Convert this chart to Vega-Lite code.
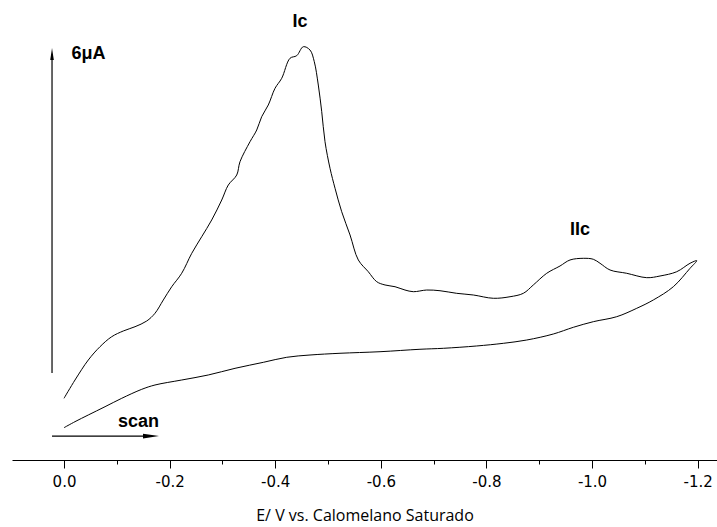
{
  "$schema": "https://vega.github.io/schema/vega-lite/v6.json",
  "width": 705,
  "height": 460,
  "autosize": {"type": "none"},
  "padding": {"left": 12, "top": 0, "right": 0, "bottom": 67},
  "background": "white",
  "config": {
    "view": {"stroke": null},
    "axis": {
      "domainColor": "black", "tickColor": "black", "labelColor": "black", "titleColor": "black",
      "labelFont": "DejaVu Sans", "labelFontSize": 15,
      "titleFont": "Open Sans", "titleFontSize": 16, "titleFontWeight": "normal"
    }
  },
  "datasets": {
    "cv": [
      {"i": 1, "E": 0.0, "I": 1.140}, {"i": 2, "E": -0.0208, "I": 1.478}, {"i": 3, "E": -0.046, "I": 1.848},
      {"i": 4, "E": -0.0682, "I": 2.094}, {"i": 5, "E": -0.0903, "I": 2.278}, {"i": 6, "E": -0.1123, "I": 2.384},
      {"i": 7, "E": -0.1345, "I": 2.463}, {"i": 8, "E": -0.1566, "I": 2.568}, {"i": 9, "E": -0.1723, "I": 2.711},
      {"i": 10, "E": -0.1881, "I": 2.957}, {"i": 11, "E": -0.204, "I": 3.202}, {"i": 12, "E": -0.2229, "I": 3.450},
      {"i": 13, "E": -0.2419, "I": 3.819}, {"i": 14, "E": -0.2608, "I": 4.126}, {"i": 15, "E": -0.2797, "I": 4.435},
      {"i": 16, "E": -0.2987, "I": 4.804}, {"i": 17, "E": -0.3112, "I": 5.082}, {"i": 18, "E": -0.3271, "I": 5.266},
      {"i": 19, "E": -0.3333, "I": 5.512}, {"i": 20, "E": -0.3523, "I": 5.882}, {"i": 21, "E": -0.365, "I": 6.098},
      {"i": 22, "E": -0.3744, "I": 6.344}, {"i": 23, "E": -0.3869, "I": 6.560}, {"i": 24, "E": -0.3996, "I": 6.868},
      {"i": 25, "E": -0.4123, "I": 7.053}, {"i": 26, "E": -0.428, "I": 7.423}, {"i": 27, "E": -0.4407, "I": 7.471},
      {"i": 28, "E": -0.4532, "I": 7.637}, {"i": 29, "E": -0.4659, "I": 7.576}, {"i": 30, "E": -0.474, "I": 7.360},
      {"i": 31, "E": -0.4816, "I": 6.929}, {"i": 32, "E": -0.4881, "I": 6.436}, {"i": 33, "E": -0.4943, "I": 5.882},
      {"i": 34, "E": -0.5038, "I": 5.390}, {"i": 35, "E": -0.5133, "I": 5.021}, {"i": 36, "E": -0.5259, "I": 4.588},
      {"i": 37, "E": -0.5417, "I": 4.158}, {"i": 38, "E": -0.5574, "I": 3.696}, {"i": 39, "E": -0.5763, "I": 3.479},
      {"i": 40, "E": -0.5922, "I": 3.295}, {"i": 41, "E": -0.608, "I": 3.234}, {"i": 42, "E": -0.6269, "I": 3.202},
      {"i": 43, "E": -0.6458, "I": 3.141}, {"i": 44, "E": -0.6616, "I": 3.110}, {"i": 45, "E": -0.6869, "I": 3.141},
      {"i": 46, "E": -0.7121, "I": 3.128}, {"i": 47, "E": -0.7437, "I": 3.080}, {"i": 48, "E": -0.7752, "I": 3.049},
      {"i": 49, "E": -0.8131, "I": 2.988}, {"i": 50, "E": -0.8447, "I": 3.017}, {"i": 51, "E": -0.8699, "I": 3.080},
      {"i": 52, "E": -0.8888, "I": 3.234}, {"i": 53, "E": -0.9142, "I": 3.450}, {"i": 54, "E": -0.9394, "I": 3.585},
      {"i": 55, "E": -0.9583, "I": 3.696}, {"i": 56, "E": -0.9835, "I": 3.727}, {"i": 57, "E": -1.0025, "I": 3.709},
      {"i": 58, "E": -1.0152, "I": 3.635}, {"i": 59, "E": -1.0341, "I": 3.511}, {"i": 60, "E": -1.0657, "I": 3.450},
      {"i": 61, "E": -1.1036, "I": 3.369}, {"i": 62, "E": -1.1288, "I": 3.400}, {"i": 63, "E": -1.1604, "I": 3.479},
      {"i": 64, "E": -1.1856, "I": 3.635}, {"i": 65, "E": -1.1983, "I": 3.683},
      {"i": 66, "E": -1.1856, "I": 3.542}, {"i": 67, "E": -1.154, "I": 3.202}, {"i": 68, "E": -1.1161, "I": 2.957},
      {"i": 69, "E": -1.0847, "I": 2.803}, {"i": 70, "E": -1.0468, "I": 2.648}, {"i": 71, "E": -1.0025, "I": 2.556},
      {"i": 72, "E": -0.9646, "I": 2.452}, {"i": 73, "E": -0.9267, "I": 2.328}, {"i": 74, "E": -0.8763, "I": 2.217},
      {"i": 75, "E": -0.832, "I": 2.156}, {"i": 76, "E": -0.7816, "I": 2.107}, {"i": 77, "E": -0.7184, "I": 2.064},
      {"i": 78, "E": -0.6742, "I": 2.046}, {"i": 79, "E": -0.5985, "I": 2.001}, {"i": 80, "E": -0.5227, "I": 1.972},
      {"i": 81, "E": -0.4659, "I": 1.940}, {"i": 82, "E": -0.4218, "I": 1.898}, {"i": 83, "E": -0.3775, "I": 1.805},
      {"i": 84, "E": -0.3239, "I": 1.694}, {"i": 85, "E": -0.2733, "I": 1.571}, {"i": 86, "E": -0.2229, "I": 1.478},
      {"i": 87, "E": -0.1723, "I": 1.386}, {"i": 88, "E": -0.1472, "I": 1.306}, {"i": 89, "E": -0.1093, "I": 1.140},
      {"i": 90, "E": -0.0777, "I": 0.985}, {"i": 91, "E": -0.046, "I": 0.832}, {"i": 92, "E": -0.0208, "I": 0.708},
      {"i": 93, "E": 0.0, "I": 0.597}
    ],
    "bar": [{"E": 0.0227, "I": 1.608, "I2": 7.5}],
    "scan": [{"E": 0.0227, "E2": -0.16, "I": 0.443}],
    "headV": [{"E": 0.0227, "I": 7.502}],
    "headH": [{"E": -0.1648, "I": 0.443}],
    "labels": [
      {"E": -0.447, "I": 8.093, "t": "Ic"},
      {"E": -0.977, "I": 4.241, "t": "IIc"},
      {"E": -0.1411, "I": 0.711, "t": "scan"},
      {"E": -0.0464, "I": 7.502, "t": "6μA"}
    ]
  },
  "layer": [
    {
      "data": {"name": "cv"},
      "mark": {"type": "line", "color": "black", "strokeWidth": 1, "interpolate": "catmull-rom"},
      "encoding": {
        "x": {
          "field": "E", "type": "quantitative",
          "scale": {"domain": [0.0985, -1.2367], "nice": false, "zero": false},
          "axis": {
            "title": "E/ V vs. Calomelano Saturado",
            "values": [0, -0.1, -0.2, -0.3, -0.4, -0.5, -0.6, -0.7, -0.8, -0.9, -1.0, -1.1, -1.2],
            "labelExpr": "round(datum.value*10) % 2 == 0 ? replace(format(datum.value, '.1f'), '\u2212', '-') : ''",
            "tickSize": {"condition": {"test": "round(datum.value*10) % 2 == 0", "value": 8}, "value": 4},
            "labelPadding": 6,
            "labelFlush": false,
            "labelBound": false,
            "labelOverlap": false,
            "grid": false,
            "titlePadding": 18
          }
        },
        "y": {
          "field": "I", "type": "quantitative",
          "scale": {"domain": [0, 8.5], "nice": false, "zero": false},
          "axis": null
        },
        "order": {"field": "i", "type": "quantitative"}
      }
    },
    {
      "data": {"name": "bar"},
      "mark": {"type": "rule", "color": "black", "strokeWidth": 1.2},
      "encoding": {
        "x": {"field": "E", "type": "quantitative"},
        "y": {"field": "I", "type": "quantitative"},
        "y2": {"field": "I2"}
      }
    },
    {
      "data": {"name": "scan"},
      "mark": {"type": "rule", "color": "black", "strokeWidth": 1.2},
      "encoding": {
        "x": {"field": "E", "type": "quantitative"},
        "x2": {"field": "E2"},
        "y": {"field": "I", "type": "quantitative"}
      }
    },
    {
      "data": {"name": "headV"},
      "mark": {"type": "point", "shape": "M-0.3,1L0,-1L0.3,1Z", "filled": true, "color": "black", "opacity": 1, "size": 144},
      "encoding": {
        "x": {"field": "E", "type": "quantitative"},
        "y": {"field": "I", "type": "quantitative"}
      }
    },
    {
      "data": {"name": "headH"},
      "mark": {"type": "point", "shape": "M-1,-0.3L1,0L-1,0.3Z", "filled": true, "color": "black", "opacity": 1, "size": 256},
      "encoding": {
        "x": {"field": "E", "type": "quantitative"},
        "y": {"field": "I", "type": "quantitative"}
      }
    },
    {
      "data": {"name": "labels"},
      "mark": {"type": "text", "font": "Liberation Sans", "fontSize": 18, "fontWeight": "bold", "color": "black", "align": "center", "baseline": "middle"},
      "encoding": {
        "x": {"field": "E", "type": "quantitative"},
        "y": {"field": "I", "type": "quantitative"},
        "text": {"field": "t"}
      }
    }
  ]
}
